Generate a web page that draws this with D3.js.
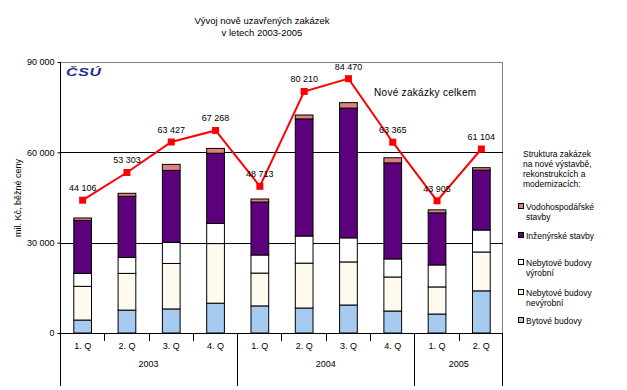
<!DOCTYPE html>
<html>
<head>
<meta charset="utf-8">
<script src="https://cdn.jsdelivr.net/npm/d3@7"></script>
<style>
  html, body { margin: 0; padding: 0; background: #fff; }
  svg { display: block; }
  text { font-family: "Liberation Sans", Arial, sans-serif; fill: #000; }
</style>
</head>
<body>
<svg id="chart" width="627" height="390"></svg>
<script>
// ---- data ----
const quarters = ["1. Q", "2. Q", "3. Q", "4. Q", "1. Q", "2. Q", "3. Q", "4. Q", "1. Q", "2. Q"];
const years = ["2003", "2004", "2005"];
const yearSpans = [4, 4, 2];
const bytove = [4300, 7600, 8000, 9900, 9000, 8300, 9300, 7300, 6300, 14000];
const nevyrobni = [11200, 12200, 15100, 19800, 10900, 14900, 14300, 11300, 9000, 12900];
const vyrobni = [4300, 5300, 7000, 6700, 6000, 9000, 8000, 6000, 7300, 7300];
const inzenyrske = [17600, 20300, 23900, 23300, 17600, 38900, 43100, 31900, 17300, 19900];
const vodohosp = [800, 1000, 2000, 1600, 1000, 1300, 1800, 1700, 1000, 800];
const celkem = [44106, 53303, 63427, 67268, 48713, 80210, 84470, 63365, 43905, 61104];
const yTicks = [0, 30000, 60000, 90000];
const seriesNames = ["Bytové budovy", "Nebytové budovy nevýrobní", "Nebytové budovy výrobní", "Inženýrské stavby", "Vodohospodářské stavby"];
const seriesColors = ["#a6caf0", "#fffaee", "#ffffff", "#5c007c", "#e08080"];

// ---- layout ----
const svg = d3.select("#chart");
const L = 60, R = 503, T = 62, B = 333;
const idx = quarters.map((q, i) => i);
const x = d3.scaleBand().domain(idx).range([L, R]).paddingInner(0.6).paddingOuter(0.3);
const y = d3.scaleLinear().domain([0, 90000]).range([B, T]);
const step = x.step();
const fmt = v => d3.format(",")(v).replace(/,/g, " ");

// title
svg.append("text").attr("x", 262).attr("y", 24).attr("text-anchor", "middle")
  .style("font-size", "9.5px").text("Vývoj nově uzavřených zakázek");
svg.append("text").attr("x", 262).attr("y", 36).attr("text-anchor", "middle")
  .style("font-size", "9.5px").text("v letech 2003-2005");

// plot frame (gray top/right)
svg.append("line").attr("x1", L).attr("x2", R).attr("y1", T + 0.5).attr("y2", T + 0.5).attr("stroke", "#808080");
svg.append("line").attr("x1", R - 0.5).attr("x2", R - 0.5).attr("y1", T).attr("y2", B).attr("stroke", "#808080");

// gridlines
svg.append("g").selectAll("line").data(yTicks.filter(v => v > 0 && v < 90000)).join("line")
  .attr("x1", L).attr("x2", R)
  .attr("y1", d => Math.round(y(d)) + 0.5).attr("y2", d => Math.round(y(d)) + 0.5)
  .attr("stroke", "#000");

// y axis
const yAxis = d3.axisLeft(y).tickValues(yTicks).tickFormat(fmt).tickSize(3).tickPadding(3);
const gy = svg.append("g").attr("transform", `translate(${L + 0.5},0)`).call(yAxis);
gy.select(".domain").remove();
gy.selectAll("text").style("font-size", "9px").style("font-family", "Liberation Sans, Arial, sans-serif");
gy.selectAll("line").attr("stroke", "#000");
svg.append("line").attr("x1", L + 0.5).attr("x2", L + 0.5).attr("y1", T).attr("y2", 386).attr("stroke", "#000");

// y label
svg.append("text").attr("transform", "translate(21,198) rotate(-90)").attr("text-anchor", "middle")
  .style("font-size", "9px").text("mil. Kč, běžné ceny");

// logo
svg.append("text").attr("transform", "translate(66,76) scale(1.45,1)").style("font-size", "11px").style("font-weight", "bold")
  .style("font-style", "italic").style("fill", "#1f2d8f").style("letter-spacing", "0.5px").text("ČSÚ");

// stacked bars
const data = idx.map(i => ({ i, s0: bytove[i], s1: nevyrobni[i], s2: vyrobni[i], s3: inzenyrske[i], s4: vodohosp[i] }));
const keys = ["s0", "s1", "s2", "s3", "s4"];
const stack = d3.stack().keys(keys)(data);
svg.append("g").selectAll("g").data(stack).join("g")
  .attr("fill", (d, k) => seriesColors[k])
  .selectAll("rect").data(d => d).join("rect")
  .attr("x", d => x(d.data.i) + 0.5)
  .attr("y", d => y(d[1]))
  .attr("width", x.bandwidth())
  .attr("height", d => y(d[0]) - y(d[1]))
  .attr("stroke", "#000").attr("stroke-width", 1);

// x axis baseline
svg.append("line").attr("x1", L).attr("x2", R).attr("y1", B + 0.5).attr("y2", B + 0.5).attr("stroke", "#000");

// quarter ticks and labels
const gx = svg.append("g");
idx.slice(1).forEach(i => {
  gx.append("line").attr("x1", Math.round(x(i) - step * 0.3) + 0.5).attr("x2", Math.round(x(i) - step * 0.3) + 0.5)
    .attr("y1", B).attr("y2", 341).attr("stroke", "#000");
});
gx.selectAll("text").data(idx).join("text")
  .attr("x", i => x(i) + x.bandwidth() / 2 + 0.5).attr("y", 349).attr("text-anchor", "middle")
  .style("font-size", "9px").text(i => quarters[i]);

// year separators and labels
let acc = 0;
const bounds = [0];
yearSpans.forEach(s => { acc += s; bounds.push(acc); });
bounds.forEach(b => {
  const xx = Math.round(L + b * step) - (b === quarters.length ? 0.5 : -0.5);
  svg.append("line").attr("x1", xx).attr("x2", xx).attr("y1", B).attr("y2", 386).attr("stroke", "#000");
});
years.forEach((yr, k) => {
  svg.append("text").attr("x", L + (bounds[k] + bounds[k + 1]) / 2 * step).attr("y", 367)
    .attr("text-anchor", "middle").style("font-size", "9px").text(yr);
});

// total line
const cx = i => x(i) + x.bandwidth() / 2 + 0.5;
svg.append("path").datum(celkem)
  .attr("d", d3.line().x((d, i) => cx(i)).y(d => y(d)))
  .attr("fill", "none").attr("stroke", "#ff0000").attr("stroke-width", 2);
svg.append("g").selectAll("rect").data(celkem).join("rect")
  .attr("x", (d, i) => cx(i) - 3.5).attr("y", d => y(d) - 3.5)
  .attr("width", 7).attr("height", 7).attr("fill", "#ff0000");
svg.append("g").selectAll("text").data(celkem).join("text")
  .attr("x", (d, i) => cx(i)).attr("y", d => y(d) - 9).attr("text-anchor", "middle")
  .style("font-size", "9px").text(d => fmt(d));

svg.append("text").attr("x", 374).attr("y", 96).style("font-size", "10px").style("letter-spacing", "0.3px")
  .text("Nové zakázky celkem");

// legend
const lg = svg.append("g");
["Struktura zakázek", "na nové výstavbě,", "rekonstrukcích a", "modernizacích:"].forEach((t, k) => {
  lg.append("text").attr("x", 523).attr("y", 157 + k * 10).style("font-size", "8.5px").text(t);
});
const legendItems = [
  { k: 4, lines: ["Vodohospodářské", "stavby"], y: 207 },
  { k: 3, lines: ["Inženýrské stavby"], y: 236 },
  { k: 2, lines: ["Nebytové budovy", "výrobní"], y: 263 },
  { k: 1, lines: ["Nebytové budovy", "nevýrobní"], y: 293 },
  { k: 0, lines: ["Bytové budovy"], y: 321 }
];
legendItems.forEach(it => {
  lg.append("rect").attr("x", 518.5).attr("y", it.y - 3.5).attr("width", 5).attr("height", 5)
    .attr("fill", seriesColors[it.k]).attr("stroke", "#000").attr("stroke-width", 1);
  it.lines.forEach((t, j) => {
    lg.append("text").attr("x", 526).attr("y", it.y + 3 + j * 9.5).style("font-size", "8.5px").text(t);
  });
});
</script>
</body>
</html>
